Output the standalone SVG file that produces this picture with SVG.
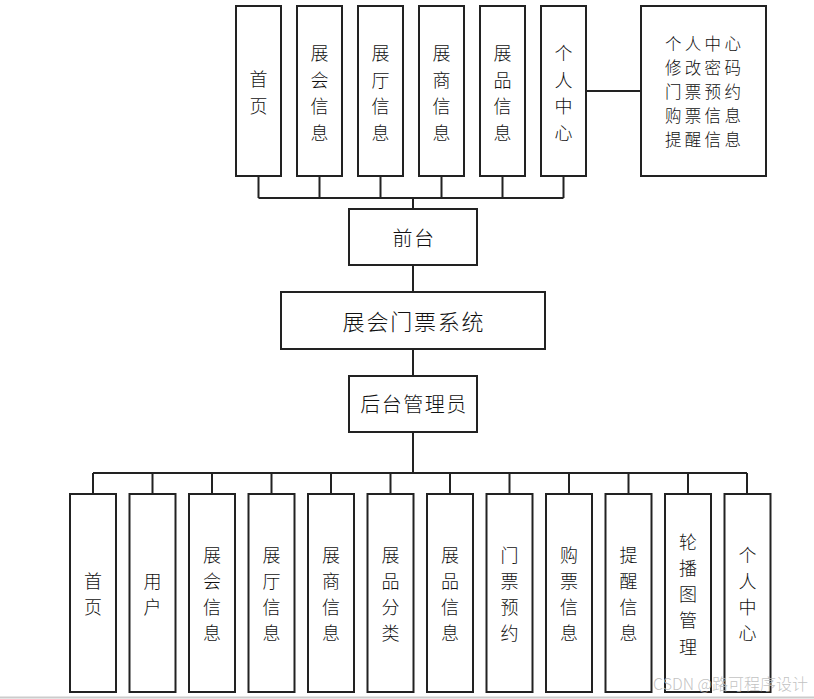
<svg xmlns="http://www.w3.org/2000/svg" width="814" height="699" viewBox="0 0 814 699">
<style>
.box{fill:#fff;stroke:#222;stroke-width:2}
.ln{fill:none;stroke:#222;stroke-width:2}
text{font-family:"Noto Sans CJK SC","Noto Sans",sans-serif;fill:#111;text-anchor:middle;dominant-baseline:central;font-weight:300}
.v{font-size:18px}
.m{font-size:20px;letter-spacing:1.5px}
.s{font-size:16.5px;letter-spacing:3.3px;text-anchor:start}
</style>
<rect width="814" height="699" fill="#fff"/>
<g id="connectors">
<path class="ln" d="M258.5 176V198M319.5 176V198M380.5 176V198M441.5 176V198M502.5 176V198M563.5 176V198M258.5 198H563.5M413 198V209"/>
<path class="ln" d="M586 91H641"/>
<path class="ln" d="M413 265V292M413 349V376M413 432V473"/>
<path class="ln" d="M93 473H747M93 473V494M152.5 473V494M212 473V494M271.5 473V494M331 473V494M390.5 473V494M450 473V494M509.5 473V494M569 473V494M628.5 473V494M688 473V494M747 473V494"/>
</g>
<g id="top-home"><rect class="box" x="236" y="6" width="45" height="170"/><text class="v"><tspan x="258.5" y="78">首</tspan><tspan x="258.5" y="104.6">页</tspan></text></g>
<g id="top-expo"><rect class="box" x="297" y="6" width="45" height="170"/><text class="v"><tspan x="319.5" y="52">展</tspan><tspan x="319.5" y="78.6">会</tspan><tspan x="319.5" y="105.2">信</tspan><tspan x="319.5" y="131.8">息</tspan></text></g>
<g id="top-hall"><rect class="box" x="358" y="6" width="45" height="170"/><text class="v"><tspan x="380.5" y="52">展</tspan><tspan x="380.5" y="78.6">厅</tspan><tspan x="380.5" y="105.2">信</tspan><tspan x="380.5" y="131.8">息</tspan></text></g>
<g id="top-vendor"><rect class="box" x="419" y="6" width="45" height="170"/><text class="v"><tspan x="441.5" y="52">展</tspan><tspan x="441.5" y="78.6">商</tspan><tspan x="441.5" y="105.2">信</tspan><tspan x="441.5" y="131.8">息</tspan></text></g>
<g id="top-item"><rect class="box" x="480" y="6" width="45" height="170"/><text class="v"><tspan x="502.5" y="52">展</tspan><tspan x="502.5" y="78.6">品</tspan><tspan x="502.5" y="105.2">信</tspan><tspan x="502.5" y="131.8">息</tspan></text></g>
<g id="top-personal"><rect class="box" x="541" y="6" width="45" height="170"/><text class="v"><tspan x="563.5" y="52">个</tspan><tspan x="563.5" y="78.6">人</tspan><tspan x="563.5" y="105.2">中</tspan><tspan x="563.5" y="131.8">心</tspan></text></g>
<g id="personal-detail"><rect class="box" x="641" y="6" width="125" height="170"/><text class="s"><tspan x="665" y="43">个人中心</tspan><tspan x="665" y="67">修改密码</tspan><tspan x="665" y="91">门票预约</tspan><tspan x="665" y="115">购票信息</tspan><tspan x="665" y="139">提醒信息</tspan></text></g>
<g id="frontend"><rect class="box" x="349" y="209" width="128" height="56"/><text class="m" x="414" y="237">前台</text></g>
<g id="system"><rect class="box" x="281" y="292" width="264" height="57"/><text x="414" y="320" style="font-size:22px;letter-spacing:1.8px">展会门票系统</text></g>
<g id="backend"><rect class="box" x="349" y="376" width="128" height="56"/><text class="m" x="414" y="403">后台管理员</text></g>
<g id="b-home"><rect class="box" x="70" y="494" width="46" height="198"/><text class="v"><tspan x="93" y="580">首</tspan><tspan x="93" y="606.3">页</tspan></text></g>
<g id="b-user"><rect class="box" x="129.5" y="494" width="46" height="198"/><text class="v"><tspan x="152.5" y="580">用</tspan><tspan x="152.5" y="606.3">户</tspan></text></g>
<g id="b-expo"><rect class="box" x="189" y="494" width="46" height="198"/><text class="v"><tspan x="212" y="553.5">展</tspan><tspan x="212" y="579.8">会</tspan><tspan x="212" y="606.1">信</tspan><tspan x="212" y="632.4">息</tspan></text></g>
<g id="b-hall"><rect class="box" x="248.5" y="494" width="46" height="198"/><text class="v"><tspan x="271.5" y="553.5">展</tspan><tspan x="271.5" y="579.8">厅</tspan><tspan x="271.5" y="606.1">信</tspan><tspan x="271.5" y="632.4">息</tspan></text></g>
<g id="b-vendor"><rect class="box" x="308" y="494" width="46" height="198"/><text class="v"><tspan x="331" y="553.5">展</tspan><tspan x="331" y="579.8">商</tspan><tspan x="331" y="606.1">信</tspan><tspan x="331" y="632.4">息</tspan></text></g>
<g id="b-category"><rect class="box" x="367.5" y="494" width="46" height="198"/><text class="v"><tspan x="390.5" y="553.5">展</tspan><tspan x="390.5" y="579.8">品</tspan><tspan x="390.5" y="606.1">分</tspan><tspan x="390.5" y="632.4">类</tspan></text></g>
<g id="b-item"><rect class="box" x="427" y="494" width="46" height="198"/><text class="v"><tspan x="450" y="553.5">展</tspan><tspan x="450" y="579.8">品</tspan><tspan x="450" y="606.1">信</tspan><tspan x="450" y="632.4">息</tspan></text></g>
<g id="b-reserve"><rect class="box" x="486.5" y="494" width="46" height="198"/><text class="v"><tspan x="509.5" y="553.5">门</tspan><tspan x="509.5" y="579.8">票</tspan><tspan x="509.5" y="606.1">预</tspan><tspan x="509.5" y="632.4">约</tspan></text></g>
<g id="b-purchase"><rect class="box" x="546" y="494" width="46" height="198"/><text class="v"><tspan x="569" y="553.5">购</tspan><tspan x="569" y="579.8">票</tspan><tspan x="569" y="606.1">信</tspan><tspan x="569" y="632.4">息</tspan></text></g>
<g id="b-remind"><rect class="box" x="605.5" y="494" width="46" height="198"/><text class="v"><tspan x="628.5" y="553.5">提</tspan><tspan x="628.5" y="579.8">醒</tspan><tspan x="628.5" y="606.1">信</tspan><tspan x="628.5" y="632.4">息</tspan></text></g>
<g id="b-carousel"><rect class="box" x="665" y="494" width="46" height="198"/><text class="v"><tspan x="688" y="540.5">轮</tspan><tspan x="688" y="566.8">播</tspan><tspan x="688" y="593.1">图</tspan><tspan x="688" y="619.4">管</tspan><tspan x="688" y="645.7">理</tspan></text></g>
<g id="b-personal"><rect class="box" x="724.5" y="494" width="46" height="198"/><text class="v"><tspan x="747.5" y="553.5">个</tspan><tspan x="747.5" y="579.8">人</tspan><tspan x="747.5" y="606.1">中</tspan><tspan x="747.5" y="632.4">心</tspan></text></g>
<line x1="0" y1="697.5" x2="814" y2="697.5" stroke="#ccc" stroke-width="2"/>
<text x="653" y="683" style="font-size:16px;fill:#bbb;text-anchor:start;fill-opacity:0.9">CSDN @路可程序设计</text>
</svg>
